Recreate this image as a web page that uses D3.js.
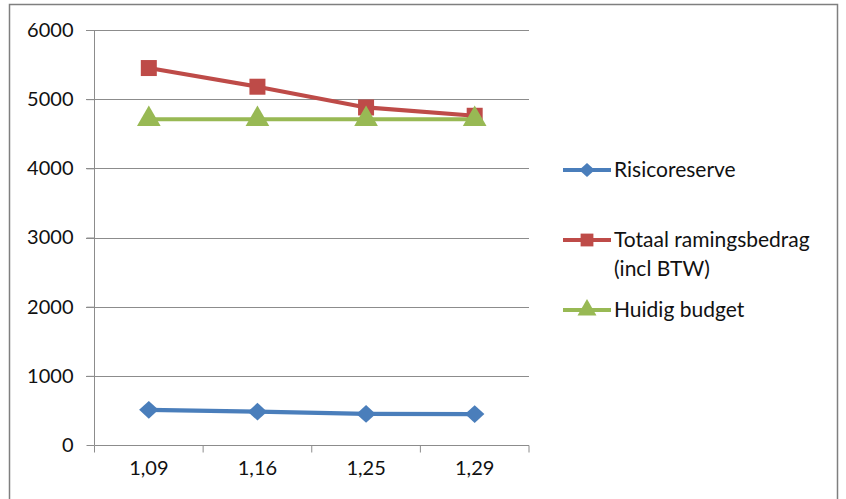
<!DOCTYPE html>
<html><head><meta charset="utf-8">
<script src="https://cdn.jsdelivr.net/npm/d3@7"></script>
<style>body{margin:0;background:#fff}svg{display:block}text{font-family:Lato,"Open Sans",sans-serif;fill:#111}</style>
</head><body><svg id="c" width="846" height="499"></svg>
<script>
const categories = ["1,09","1,16","1,25","1,29"];
const risicoreserve = [508, 482, 450, 447];
const totaal = [5450, 5180, 4880, 4760];
const budget = [4710, 4710, 4710, 4710];
const yTicks = [0,1000,2000,3000,4000,5000,6000];
const seriesNames = ["Risicoreserve","Totaal ramingsbedrag|(incl BTW)","Huidig budget"];
const colors = ["#4A7EBB","#BE4B48","#98B954"];

const svg = d3.select("#c");
svg.append("rect").attr("x",9.5).attr("y",4.5).attr("width",828).attr("height",500)
  .attr("fill","#fff").attr("stroke","#7f7f7f").attr("stroke-width",1.5);

const x = d3.scaleBand().domain(categories).range([94.5,529]);
const y = d3.scaleLinear().domain([0,6000]).range([445,30]);

svg.append("g").selectAll("line").data(yTicks.filter(d=>d>0)).join("line")
  .attr("x1",86).attr("x2",529).attr("y1",d=>Math.round(y(d))+0.5).attr("y2",d=>Math.round(y(d))+0.5)
  .attr("stroke","#8c8c8c").attr("stroke-width",1.2);

const yAxis = svg.append("g").attr("transform","translate(94.5,0)")
  .call(d3.axisLeft(y).tickValues(yTicks).tickSize(8).tickPadding(13).tickFormat(d3.format("d")));
yAxis.select(".domain").attr("stroke","#8c8c8c").attr("d","M0,30V445");
yAxis.selectAll(".tick line").attr("stroke","#8c8c8c");
yAxis.selectAll("text").style("font-size","20px");

const xAxis = svg.append("g").attr("transform","translate(0,445.5)")
  .call(d3.axisBottom(x).tickSize(0).tickPadding(15));
xAxis.select(".domain").attr("stroke","#8c8c8c").attr("d","M94.5,0H529");
xAxis.selectAll("text").style("font-size","20px");
const bounds = [...categories.map(c=>x(c)), 529];
xAxis.append("g").selectAll("line").data(bounds).join("line")
  .attr("x1",d=>d).attr("x2",d=>d).attr("y1",0).attr("y2",7).attr("stroke","#8c8c8c");

const cx = c => x(c) + x.bandwidth()/2;
const data = [risicoreserve, totaal, budget];
const diamond = s => `M0,${-s}L${s*1.1},0L0,${s}L${-s*1.1},0Z`;
const markers = [
  s => diamond(s*0.55),
  s => d3.symbol().type(d3.symbolSquare).size(s*s)(),
  s => d3.symbol().type(d3.symbolTriangle).size(s*s*0.75)()
];
const msz = [16, 16, 18];
const line = d3.line().x((d,i)=>cx(categories[i])).y(d=>y(d));

data.forEach((vals,k)=>{
  const g = svg.append("g");
  g.append("path").attr("d",line(vals)).attr("fill","none").attr("stroke",colors[k]).attr("stroke-width",4.2);
  g.selectAll("path.m").data(vals).join("path").attr("class","m")
    .attr("transform",(d,i)=>`translate(${cx(categories[i])},${y(d)})`)
    .attr("d",markers[k](msz[k])).attr("fill",colors[k]);
});

const legY = [170, 240, 310];
const leg = svg.append("g");
seriesNames.forEach((n,k)=>{
  const g = leg.append("g").attr("transform",`translate(0,${legY[k]})`);
  g.append("line").attr("x1",563).attr("x2",611).attr("stroke",colors[k]).attr("stroke-width",4);
  g.append("path").attr("transform","translate(587,0)")
    .attr("d",markers[k](msz[k]*0.8)).attr("fill",colors[k]);
  n.split("|").forEach((t,j)=>{
    g.append("text").attr("x",614).attr("y",j*29).attr("dy","0.35em").style("font-size","21px").text(t);
  });
});
</script></body></html>
